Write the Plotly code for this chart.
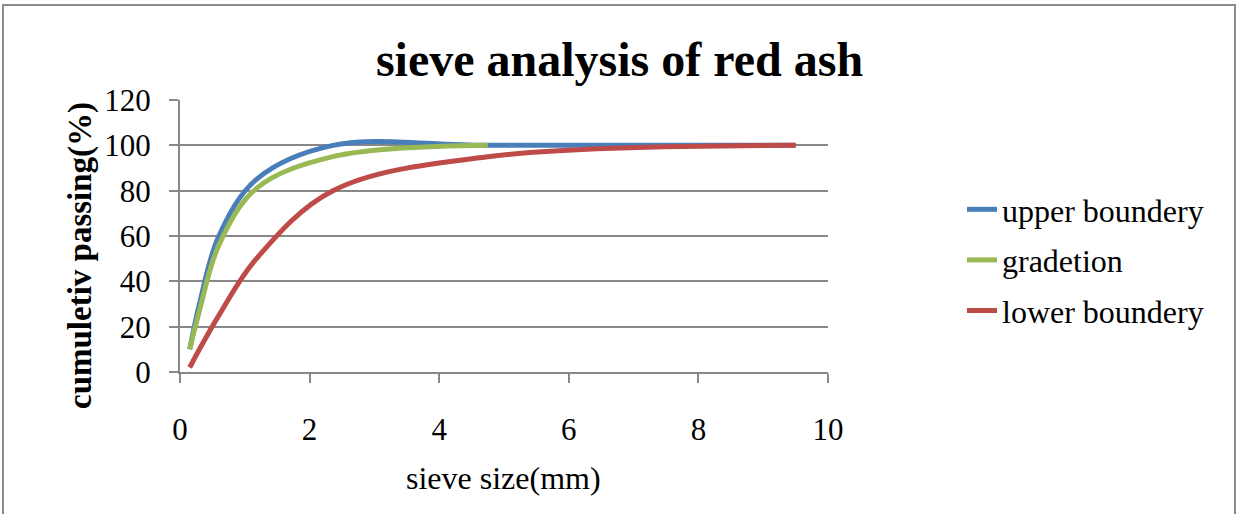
import plotly.graph_objects as go

sieve_full = [0.15, 0.3, 0.6, 1.18, 2.36, 4.75, 9.5]
sieve_grad = [0.15, 0.3, 0.6, 1.18, 2.36, 4.75]
upper = [10, 30, 60, 85, 100, 100, 100]
gradation = [10, 27, 56, 81, 95, 100]
lower = [2, 10, 25, 50, 80, 95, 100]

x_ticks = [0, 2, 4, 6, 8, 10]
y_ticks = [0, 20, 40, 60, 80, 100, 120]

FONT = "Liberation Serif, Times New Roman, serif"
L, R, T, B = 180, 828, 100, 372
W, H = 1239, 514

fig = go.Figure()
series = [
    ("upper boundery", sieve_full, upper, "#4a7ebb"),
    ("gradetion", sieve_grad, gradation, "#98b954"),
    ("lower boundery", sieve_full, lower, "#be4b48"),
]
for name, xs, ys, col in series:
    fig.add_trace(go.Scatter(
        x=xs, y=ys, name=name, mode="lines", legendgroup=name,
        line=dict(color=col, width=5, shape="spline", smoothing=1.0),
    ))

def px_x(p):
    return (p - L) / (R - L)

def px_y(p):
    return (B - p) / (B - T)

tickfont = dict(family=FONT, size=31, color="black")

fig.update_layout(
    width=W, height=H,
    margin=dict(l=L, r=W - R, t=T, b=H - B),
    paper_bgcolor="white", plot_bgcolor="white",
    font=dict(family=FONT, size=30, color="black"),
    title=dict(text="<b>sieve analysis of red ash</b>", x=0.5, xref="container",
               xanchor="center", y=1 - 59 / H, yanchor="middle",
               font=dict(family=FONT, size=48, color="black")),
    showlegend=True,
    legend=dict(x=px_x(962), y=px_y(182), xanchor="left", yanchor="top",
                font=dict(family=FONT, size=32, color="black"), traceorder="grouped",
                tracegroupgap=6, bgcolor="rgba(0,0,0,0)"),
    xaxis=dict(range=[0, 10], tickvals=x_ticks, ticktext=[str(v) for v in x_ticks],
               tickfont=tickfont,
               showgrid=False, zeroline=False, showline=True, linecolor="#888888",
               linewidth=2, ticks="outside", ticklen=9, tickcolor="#888888",
               tickwidth=2, ticklabelstandoff=20, fixedrange=True),
    yaxis=dict(range=[0, 120], tickvals=y_ticks, ticktext=[str(v) for v in y_ticks],
               tickfont=tickfont,
               showgrid=True, gridcolor="#888888", gridwidth=2, zeroline=False,
               showline=True, linecolor="#888888", linewidth=2, ticks="outside",
               ticklen=9, tickcolor="#888888", tickwidth=2, ticklabelstandoff=12,
               fixedrange=True),
    annotations=[
        dict(text="sieve size(mm)", xref="paper", yref="paper", x=px_x(503), y=px_y(478),
             xanchor="center", yanchor="middle", showarrow=False,
             font=dict(family=FONT, size=32, color="black")),
        dict(text="<b>cumuletiv passing(%)</b>", xref="paper", yref="paper",
             x=px_x(80), y=px_y(256), xanchor="center", yanchor="middle",
             textangle=-90, showarrow=False, font=dict(family=FONT, size=33, color="black")),
    ],
    shapes=[
        dict(type="rect", xref="paper", yref="paper", x0=px_x(3), x1=px_x(1235),
             y0=px_y(520), y1=px_y(5), line=dict(color="#8c8c8c", width=2),
             fillcolor="rgba(0,0,0,0)", layer="below"),
    ],
)

fig.write_html("out.html")
